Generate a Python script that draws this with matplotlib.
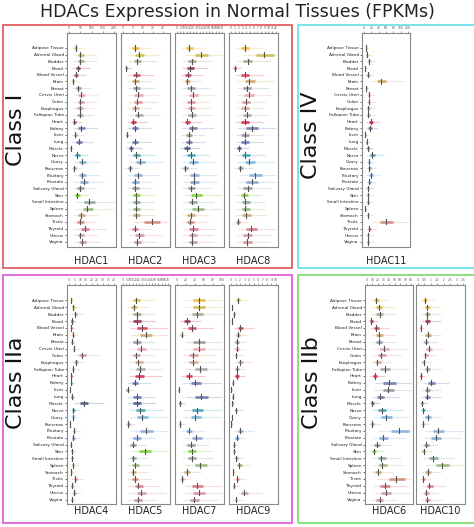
import matplotlib
matplotlib.use("Agg")
import matplotlib.pyplot as plt
import numpy as np

W, H = 474, 527
tissues = ["Adipose Tissue","Adrenal Gland","Bladder","Blood","Blood Vessel","Brain","Breast",
           "Cervix Uteri","Colon","Esophagus","Fallopian Tube","Heart","Kidney","Liver","Lung",
           "Muscle","Nerve","Ovary","Pancreas","Pituitary","Prostate","Salivary Gland","Skin",
           "Small Intestine","Spleen","Stomach","Testis","Thyroid","Uterus","Vagina"]
tissue_colors = ["#e8b830","#c8b840","#a0a080","#8a2040","#e03050","#c8a060","#909098",
                 "#e8a0a8","#d89090","#d0a090","#a0a0a0","#d02040","#6070a8","#909090","#6070a0",
                 "#405080","#30a0b0","#70b0d8","#909090","#80a8d8","#80a0d0","#909090","#70d020",
                 "#80a090","#90b070","#c0a070","#d08070","#d07080","#d090a0","#c09090"]

HDAC1 = [29,51,51,39,32,17,41,54,51,47,47,24,53,27,44,8,36,59,23,57,65,50,36,89,81,54,50,69,51,59]
HDAC2 = [6,7.9,7.1,1.7,6.4,6,6.7,7.6,7.2,6,7.7,5,5.9,1.8,5.9,4,6.6,8.6,3.4,7.4,6,6,6.7,6.4,6.4,6.6,14.3,5.9,8.2,7.1]
HDAC3 = [19,37,23,20,17,16,21,25,21,22,23,16,24,18,18,15,21,25,13,26,26,22,30,24,32,21,20,25,24,24]
HDAC8 = [3.7,8.9,4.4,1.1,3.6,4.9,4.2,4.7,3.9,3.6,4.2,3.6,5.5,3.7,3.6,2,3.8,4.9,2.4,6.3,5.5,4.4,3.4,3.8,3.8,4,1.9,5.3,4.4,4.3]
HDAC11 = [6,9,13,3,10,46,6,13,13,12,12,18,16,4,7,10,23,13,14,19,14,10,10,10,4,10,60,15,11,11]
HDAC4 = [1.8,3.9,5.4,2.7,2.1,3.3,2.4,4.2,11.4,6,3.6,1.8,2.1,0.6,2.4,12.9,3.9,3.3,0.9,4.2,3.9,1.5,2.7,2.4,3.6,2.1,5.7,2.4,4.5,2.4]
HDAC5 = [20,17,21,21,29,35,21,28,20,24,26,25,18,7,21,21,26,30,8,36,21,15,34,16,19,16,18,24,28,23]
HDAC7 = [48,48,44,22,33,10,48,48,36,36,52,26,41,4,53,7,44,41,7,26,43,30,33,33,52,22,12,44,48,38]
HDAC9 = [1.6,0.2,0.7,0.2,2.1,1.6,1.3,1.3,1.1,2,1.3,1.3,0.4,0.1,0.4,0.3,1.1,0.2,0.1,2.1,1.3,0.7,0.6,1.2,1.8,0.5,1.4,0.7,2.9,1.1]
HDAC6 = [17,21,23,8,17,22,21,31,26,19,32,14,40,38,24,10,27,35,10,59,29,18,13,26,28,20,53,32,34,23]
HDAC10 = [0.55,0.73,0.73,0.73,0.2,0.76,0.6,0.84,0.57,0.44,0.73,0.23,1.0,0.73,0.73,0.29,0.42,0.76,0.37,1.57,1.38,0.63,0.44,1.17,1.88,0.76,0.39,0.89,0.65,0.73]

genes = {"HDAC1":(HDAC1,200,50),"HDAC2":(HDAC2,22.5,5),"HDAC3":(HDAC3,70,5),"HDAC8":(HDAC8,12,1),
         "HDAC11":(HDAC11,120,20),"HDAC4":(HDAC4,40,5),"HDAC5":(HDAC5,70,5),"HDAC7":(HDAC7,100,20),
         "HDAC9":(HDAC9,10,1),"HDAC6":(HDAC6,80,10),"HDAC10":(HDAC10,3.5,0.5)}

fig = plt.figure(figsize=(W/100, H/100), dpi=100)

def rect(x0, y0, x1, y1):
    return [x0/W, 1-y1/H, (x1-x0)/W, (y1-y0)/H]

fig.text(0.5, 1-12/H, "HDACs Expression in Normal Tissues (FPKMs)", ha="center", va="center",
         fontsize=12.5, color="#222222")

boxes = [((3,25,292,268),"#e06060","Class I"),((298,25,476,268),"#70e0e8","Class IV"),
         ((3,275,292,523),"#e060e0","Class IIa"),((298,275,476,523),"#80e070","Class IIb")]
for (x0,y0,x1,y1),c,lab in boxes:
    r = plt.Rectangle((x0/W,1-y1/H),(x1-x0)/W,(y1-y0)/H,transform=fig.transFigure,
                      fill=False,edgecolor=c,linewidth=1.3)
    fig.add_artist(r)

def panel(x0, x1, y0, y1, ylim, gname, show_labels, label_y):
    vals, xmax, step = genes[gname]
    ax = fig.add_axes(rect(x0, y0, x1, y1))
    pad = xmax*0.045
    ax.set_xlim(-pad, xmax+pad)
    ax.set_ylim(*ylim)
    n = len(tissues)
    for i, v in enumerate(vals):
        c = tissue_colors[i]
        ax.plot([v*0.35, min(v*2.4, xmax)], [i, i], color=c, alpha=0.25, lw=0.8, solid_capstyle="butt")
        ax.plot([v*0.75, v*1.3], [i, i], color=c, alpha=0.8, lw=2.0, solid_capstyle="butt")
        ax.plot([v, v], [i-0.38, i+0.38], color="#555555", lw=0.8)
    ax.xaxis.tick_top()
    ticks = np.arange(0, xmax+1e-9, step)
    ax.set_xticks(ticks)
    ax.set_xticklabels([("%g" % t) for t in ticks], fontsize=2.2, color="#444444")
    ax.tick_params(axis="x", length=1.5, width=0.4, pad=0.5, colors="#555555")
    if show_labels:
        ax.set_yticks(range(n))
        ax.set_yticklabels(tissues, fontsize=3.1, color="#222222")
        ax.tick_params(axis="y", length=1.5, width=0.4, pad=0.8)
    else:
        ax.set_yticks([])
    for s in ax.spines.values():
        s.set_color("#888888"); s.set_linewidth(0.8)
    fig.text((x0+x1)/2/W, 1-label_y/H, gname, ha="center", va="center", fontsize=7, color="#222222")

ylim_top = (29.75, -2.24)
ylim_bot = (29.65, -2.25)
for k,(g,x0) in enumerate([("HDAC1",67),("HDAC2",121),("HDAC3",175),("HDAC8",229)]):
    panel(x0, x0+49, 33, 247, ylim_top, g, k==0, 261)
panel(362, 410, 33, 247, ylim_top, "HDAC11", True, 261)
for k,(g,x0) in enumerate([("HDAC4",67),("HDAC5",121),("HDAC7",175),("HDAC9",229)]):
    panel(x0, x0+49, 285, 504, ylim_bot, g, k==0, 511)
panel(365, 413, 285, 504, ylim_bot, "HDAC6", True, 511)
panel(416, 465, 285, 504, ylim_bot, "HDAC10", False, 511)

for x, y, t in [(16,130,"Class I"),(311,135,"Class IV"),(16,383,"Class IIa"),(312,383,"Class IIb")]:
    fig.text(x/W, 1-y/H, t, rotation=90, ha="center", va="center", fontsize=16, color="#111111")

fig.savefig("out.png", dpi=100)
